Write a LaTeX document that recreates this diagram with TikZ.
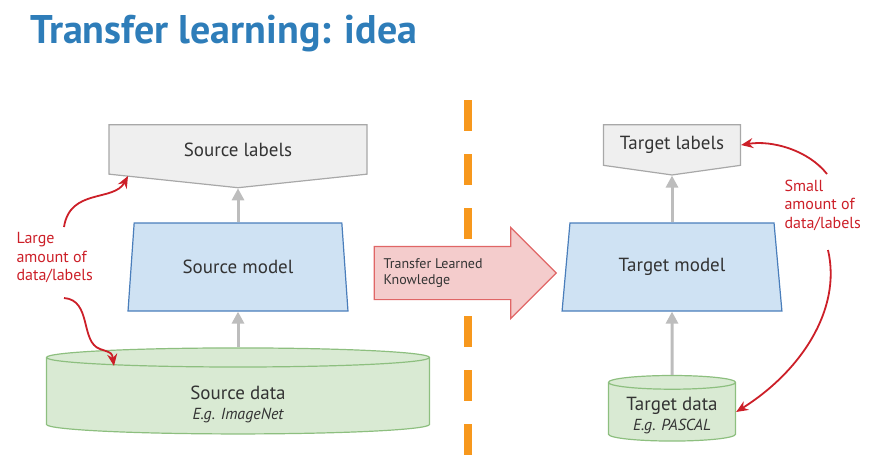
\documentclass[tikz,border=0pt]{standalone}
\usepackage{fontspec}
\setmainfont{PT Sans}
\usetikzlibrary{shapes.geometric,shapes.symbols,shapes.arrows,arrows.meta}

\definecolor{titleblue}{HTML}{2E7DB9}
\definecolor{labgray}{HTML}{EFEFEF}
\definecolor{labedge}{HTML}{A8A8A8}
\definecolor{modelblue}{HTML}{CFE2F3}
\definecolor{modeledge}{HTML}{4A7EBB}
\definecolor{datagreen}{HTML}{D9EAD3}
\definecolor{dataedge}{HTML}{8DBF7F}
\definecolor{notered}{HTML}{CC1F28}
\definecolor{dashorange}{HTML}{F7981D}
\definecolor{xferpink}{HTML}{F4CCCC}
\definecolor{xferedge}{HTML}{E06666}
\definecolor{flowgray}{HTML}{BDBDBD}
\definecolor{inktext}{HTML}{333333}

\tikzset{
  labelbox/.style={signal, signal to=south, signal from=nowhere, draw=labedge, fill=labgray,
    line width=1.2pt, inner sep=0pt, text=inktext, font=\fontsize{19}{22}\selectfont},
  modelbox/.style={trapezium, trapezium stretches=true, trapezium angle=76.6, draw=modeledge,
    fill=modelblue, line width=1.2pt, inner sep=0pt, minimum width=220pt, minimum height=88pt,
    text=inktext, font=\fontsize{19}{22}\selectfont},
  databox/.style={cylinder, shape border rotate=90, draw=dataedge, fill=datagreen,
    line width=1.2pt, inner sep=0pt, align=center, text=inktext, font=\fontsize{19}{20}\selectfont},
  flow/.style={flowgray, line width=3pt, -{Triangle[length=12pt,width=12pt]}},
  note/.style={text=notered, align=left, font=\fontsize{16}{18.5}\selectfont},
  hint/.style={notered, line width=1.8pt, -{Stealth[length=12pt,width=10pt]}},
}

\begin{document}
\begin{tikzpicture}[x=1pt, y=-1pt]
  \useasboundingbox (0,0) rectangle (881,466);

  % title
  \node[anchor=west, text=titleblue, font=\fontsize{40}{46}\selectfont\bfseries] (title) at (27,34)
    {Transfer learning: idea};

  % source side
  \node[labelbox, signal pointer angle=168, minimum width=258pt, minimum height=55pt] (srclab) at (238,149.5) {Source labels};
  \node[modelbox] (srcmod) at (238,267) {Source model};
  \node[databox, aspect=0.2, minimum width=383pt, minimum height=86pt] (srcdata) at (238,396)
    {\rule{0pt}{30pt}Source data\\ \itshape\fontsize{16}{18}\selectfont E.g. ImageNet};
  \draw[flow] (srcmod.top side) -- (srclab.south);
  \draw[flow] (srcdata.north) -- (srcmod.bottom side);

  % divider
  \coordinate (cuttop) at (468,100);
  \coordinate (cutbot) at (468,466);
  \draw[dashorange, line width=8pt, dash pattern=on 31pt off 23pt] (cuttop) -- (cutbot);

  % transfer arrow
  \node[single arrow, draw=xferedge, fill=xferpink, line width=1.2pt, single arrow head extend=19pt,
    minimum height=182pt, minimum width=90pt, inner xsep=0pt, inner ysep=26pt] (xfer) at (452,273) {};
  \node[anchor=west, align=left, text=inktext, font=\fontsize{14}{16.5}\selectfont] (xfertext) at (380,273)
    {Transfer Learned\\Knowledge};

  % target side
  \node[labelbox, signal pointer angle=164, minimum width=137pt, minimum height=48pt] (tgtlab) at (672,145) {Target labels};
  \node[modelbox] (tgtmod) at (672,267) {Target model};
  \node[databox, aspect=0.15, minimum width=127pt, minimum height=57pt] (tgtdata) at (672,412)
    {\rule{0pt}{21pt}Target data\\ \itshape\fontsize{16}{18}\selectfont E.g. PASCAL};
  \draw[flow] (tgtmod.top side) -- (tgtlab.south);
  \draw[flow] (tgtdata.north) -- (tgtmod.bottom side);

  % notes
  \node[note, anchor=west] (large) at (13,258) {Large\\amount of\\data/labels};
  \node[note, anchor=west] (small) at (781,205) {Small\\amount of\\data/labels};
  \coordinate (largeup) at (64,227);
  \coordinate (largedown) at (64,298);
  \coordinate (srclabhit) at (128,176);
  \coordinate (srcdatahit) at (114,366);
  \coordinate (smallup) at (827,174);
  \coordinate (smalldown) at (828,250);
  \draw[hint] (largeup) .. controls (70,188) and (114,202) .. (srclabhit);
  \draw[hint] (largedown) .. controls (92,300) and (80,342) .. (100,349) .. controls (112,353) .. (srcdatahit);
  \draw[hint] (smallup) .. controls (808,150) and (772,140) .. (tgtlab.east);
  \draw[hint] (smalldown) .. controls (842,310) and (800,372) .. (tgtdata.east);
\end{tikzpicture}
\end{document}
